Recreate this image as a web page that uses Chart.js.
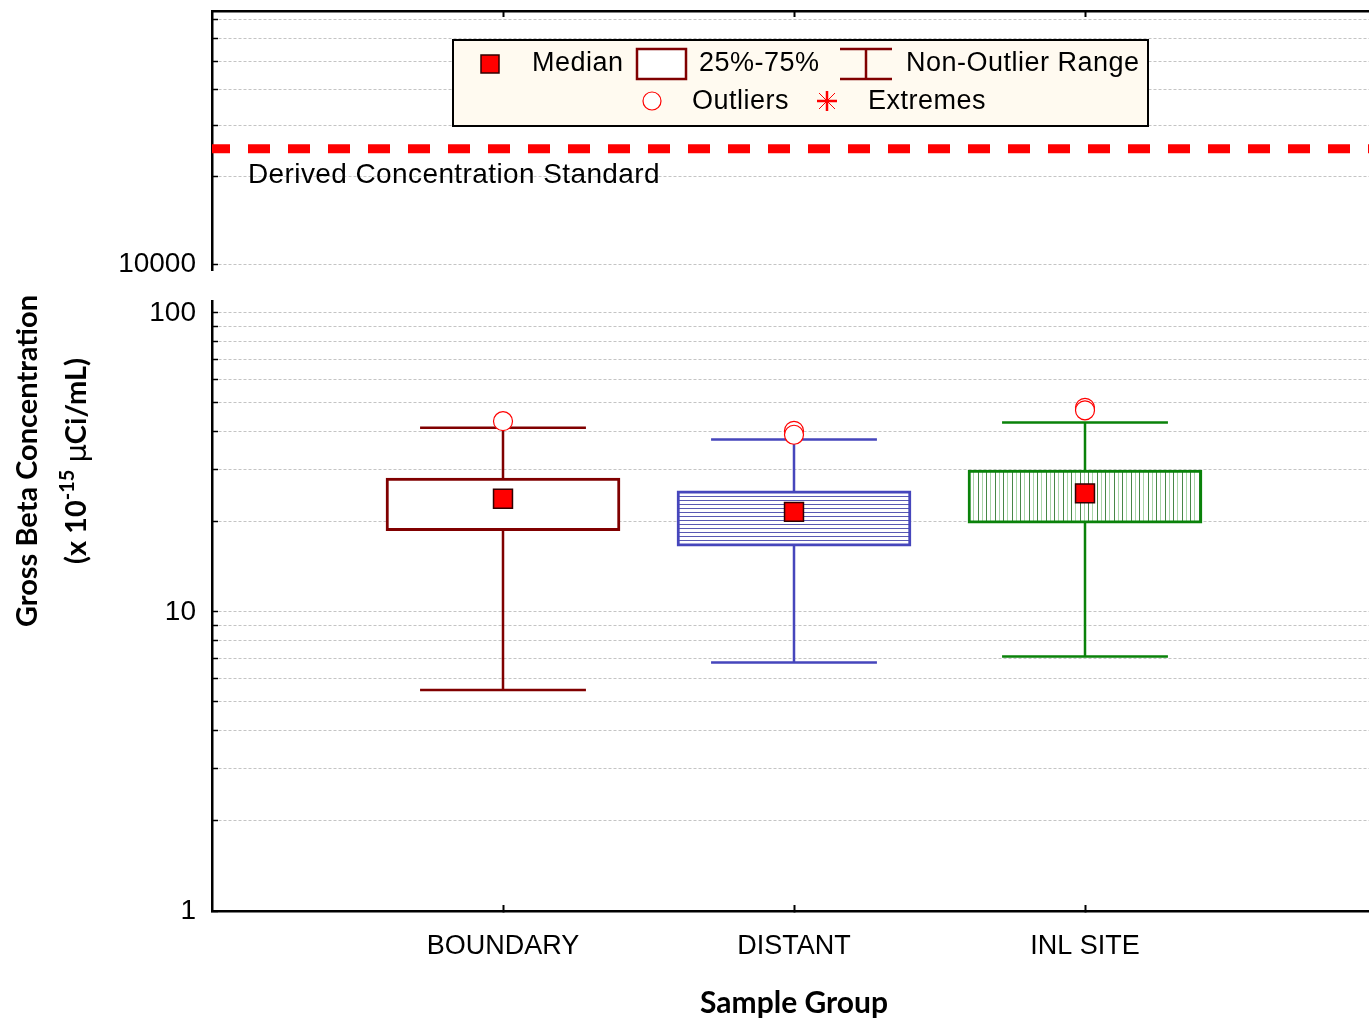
<!DOCTYPE html>
<html>
<head>
<meta charset="utf-8">
<title>Gross Beta Concentration by Sample Group</title>
<script src="https://cdn.jsdelivr.net/npm/chart.js@4.4.1/dist/chart.umd.min.js"></script>
<style>
  html, body { margin: 0; padding: 0; background: #fff; overflow: hidden; }
  canvas { display: block; }
</style>
</head>
<body>
<canvas id="boxChart" width="1376" height="1021"></canvas>
<script>
// values (x 10^-15 uCi/mL)
const groups = ['BOUNDARY', 'DISTANT', 'INL SITE'];
const whiskerLow = [5.48, 6.77, 7.10];
const quartile1 = [18.7, 16.6, 19.8];
const medians = [23.9, 21.6, 24.9];
const quartile3 = [28.0, 25.4, 29.8];
const whiskerHigh = [41.3, 37.7, 43.0];
const outliers = [[43.4], [40.3, 39.1], [48.1, 47.2]];
const derivedStandard = 25000;

const lowTicks = [1, 2, 3, 4, 5, 6, 7, 8, 9, 10, 20, 30, 40, 50, 60, 70, 80, 90, 100];
const lowLabels = [1, 10, 100];
const highTicks = [10000, 20000, 30000, 40000, 50000, 60000, 70000];
const highLabels = [10000];

const groupColors = ['#800000', '#4646bc', '#0a820a'];
const tickFont = '"Liberation Sans", Arial, sans-serif';
const titleFont = 'Lato, "Open Sans", sans-serif';
const capHalf = 0.285; // whisker cap half width, in category units

function hatch(kind) {
    const c = document.createElement('canvas');
    const g = c.getContext('2d');
    if (kind === 'horizontal') {
        c.width = 8; c.height = 4;
        g.fillStyle = '#ffffff'; g.fillRect(0, 0, 8, 4);
        g.fillStyle = 'rgba(60,60,165,0.85)'; g.fillRect(0, 0, 8, 1);
    } else {
        c.width = 17; c.height = 4;
        g.fillStyle = '#ffffff'; g.fillRect(0, 0, 17, 4);
        g.fillStyle = 'rgba(25,105,25,0.8)'; g.fillRect(0, 0, 1, 4); g.fillRect(9, 0, 1, 4);
        g.fillStyle = 'rgba(40,150,40,0.4)'; g.fillRect(4, 0, 1, 4); g.fillRect(13, 0, 1, 4);
    }
    return g.createPattern(c, 'repeat');
}
const boxFills = ['#ffffff', hatch('horizontal'), hatch('vertical')];

function whiskerPoints(i) {
    const x = i + 1;
    return [
        {x: x - capHalf, y: whiskerLow[i]}, {x: x + capHalf, y: whiskerLow[i]}, {x: x, y: null},
        {x: x, y: whiskerLow[i]}, {x: x, y: whiskerHigh[i]}, {x: x, y: null},
        {x: x - capHalf, y: whiskerHigh[i]}, {x: x + capHalf, y: whiskerHigh[i]}
    ];
}

const whiskerSets = groups.map((g, i) => ({
    type: 'line',
    label: g + ' whiskers',
    data: whiskerPoints(i),
    yAxisID: 'yLow',
    borderColor: groupColors[i],
    borderWidth: 2.5,
    pointRadius: 0,
    spanGaps: false,
    fill: false,
    order: 3
}));

function drawLegend(ctx) {
    const dark = groupColors[0];
    ctx.save();
    ctx.fillStyle = '#fffaf0';
    ctx.fillRect(453, 40, 695, 86);
    ctx.lineWidth = 2;
    ctx.strokeStyle = '#000';
    ctx.strokeRect(453, 40, 695, 86);

    ctx.font = '27px ' + tickFont;
    ctx.letterSpacing = '0.5px';
    ctx.fillStyle = '#000';
    ctx.textAlign = 'left';
    ctx.textBaseline = 'middle';
    const row1 = 64, row2 = 102;

    // median
    ctx.fillStyle = '#ff0000';
    ctx.fillRect(481, 55, 18, 18);
    ctx.lineWidth = 1.5; ctx.strokeStyle = '#300000';
    ctx.strokeRect(481, 55, 18, 18);
    ctx.fillStyle = '#000';
    ctx.fillText('Median', 532, row1);

    // 25%-75%
    ctx.fillStyle = '#fff';
    ctx.fillRect(637, 49, 49, 30);
    ctx.lineWidth = 2.5; ctx.strokeStyle = dark;
    ctx.strokeRect(637, 49, 49, 30);
    ctx.fillStyle = '#000';
    ctx.fillText('25%-75%', 699, row1);

    // non-outlier range
    ctx.beginPath();
    ctx.moveTo(840, 49); ctx.lineTo(892, 49);
    ctx.moveTo(840, 79); ctx.lineTo(892, 79);
    ctx.moveTo(866, 49); ctx.lineTo(866, 79);
    ctx.stroke();
    ctx.fillText('Non-Outlier Range', 906, row1);

    // outliers
    ctx.beginPath();
    ctx.arc(652, row2 - 1, 9, 0, Math.PI * 2);
    ctx.fillStyle = '#fff'; ctx.fill();
    ctx.lineWidth = 1.2; ctx.strokeStyle = '#ff0000'; ctx.stroke();
    ctx.fillStyle = '#000';
    ctx.fillText('Outliers', 692, row2);

    // extremes
    ctx.strokeStyle = '#ff0000';
    ctx.lineWidth = 2.5;
    ctx.beginPath();
    ctx.moveTo(827, row2 - 11); ctx.lineTo(827, row2 + 9);
    ctx.moveTo(817, row2 - 1); ctx.lineTo(837, row2 - 1);
    ctx.stroke();
    ctx.lineWidth = 1;
    ctx.beginPath();
    ctx.moveTo(819, row2 - 9); ctx.lineTo(835, row2 + 7);
    ctx.moveTo(835, row2 - 9); ctx.lineTo(819, row2 + 7);
    ctx.stroke();
    ctx.fillStyle = '#000';
    ctx.fillText('Extremes', 868, row2);
    ctx.restore();
}

function drawYTitle(ctx, area) {
    const cy = (area.top + area.bottom) / 2;
    ctx.save();
    ctx.fillStyle = '#000';
    ctx.translate(37, cy);
    ctx.rotate(-Math.PI / 2);
    ctx.font = 'bold 29px ' + titleFont;
    ctx.textAlign = 'center';
    ctx.textBaseline = 'alphabetic';
    ctx.fillText('Gross Beta Concentration', 0, 0);
    ctx.restore();

    const parts = [
        {text: '(x 10', font: 'bold 29px ' + titleFont, dy: 0},
        {text: '-15', font: 'bold 20px ' + titleFont, dy: -12},
        {text: ' ', font: 'bold 29px ' + titleFont, dy: 0},
        {text: 'μ', font: '29px "DejaVu Sans", sans-serif', dy: 0},
        {text: 'Ci/mL)', font: 'bold 29px ' + titleFont, dy: 0}
    ];
    ctx.save();
    ctx.fillStyle = '#000';
    ctx.translate(86, cy);
    ctx.rotate(-Math.PI / 2);
    ctx.textAlign = 'left';
    ctx.textBaseline = 'alphabetic';
    let total = 0;
    parts.forEach(p => { ctx.font = p.font; p.w = ctx.measureText(p.text).width; total += p.w; });
    let x = -total / 2;
    parts.forEach(p => { ctx.font = p.font; ctx.fillText(p.text, x, p.dy); x += p.w; });
    ctx.restore();
}

const decorations = {
    id: 'decorations',
    afterDraw(chart) {
        const ctx = chart.ctx;
        const area = chart.chartArea;
        const yTop = chart.scales.yTop;
        ctx.save();
        ctx.font = '28px ' + tickFont;
        ctx.letterSpacing = '0.4px';
        ctx.fillStyle = '#000';
        ctx.textAlign = 'left';
        ctx.textBaseline = 'middle';
        ctx.fillText('Derived Concentration Standard', area.left + 36, yTop.getPixelForValue(derivedStandard) + 27);
        ctx.restore();
        drawLegend(ctx);
        drawYTitle(ctx, area);
    }
};

const categoryTicks = scale => { scale.ticks = groups.map((g, i) => ({value: i + 1})); };
const gridDash = [3, 2];

// fixed axis width; drop the label overhang padding so the plot keeps its place
const fitLeft = s => {
    s.width = 212;
    s.paddingTop = 0;
    s.paddingBottom = 0;
};

const yCommon = {
    type: 'logarithmic',
    position: 'left',
    stack: 'left',
    afterFit: fitLeft,
    grid: {
        color: ctx => (ctx.tick && ctx.tick.value === 1 ? 'rgba(0,0,0,0)' : '#c4c4c4'),
        lineWidth: 1,
        drawTicks: true,
        tickLength: -6,
        tickColor: '#000',
        tickWidth: 1.5,
        tickBorderDash: []
    },
    border: { display: true, color: '#000', width: 2.5, dash: gridDash }
};

const xCommon = {
    type: 'linear',
    min: 0,
    max: 4,
    offset: false,
    afterBuildTicks: categoryTicks,
    grid: {
        offset: false,
        drawOnChartArea: false,
        drawTicks: true,
        tickLength: -6,
        tickColor: '#000',
        tickWidth: 2
    },
    border: { display: true, color: '#000', width: 2.5 }
};

new Chart(document.getElementById('boxChart'), {
    type: 'bar',
    data: {
        datasets: [
            {
                type: 'bar',
                label: '25%-75%',
                data: groups.map((g, i) => ({x: i + 1, y: [quartile1[i], quartile3[i]]})),
                yAxisID: 'yLow',
                backgroundColor: boxFills,
                borderColor: groupColors,
                borderWidth: 3,
                borderSkipped: false,
                barThickness: 234,
                order: 2
            },
            ...whiskerSets,
            {
                type: 'scatter',
                label: 'Median',
                data: groups.map((g, i) => ({x: i + 1, y: medians[i]})),
                yAxisID: 'yLow',
                pointStyle: 'rect',
                pointRadius: 13.4,
                backgroundColor: '#ff0000',
                borderColor: '#300000',
                borderWidth: 1.5,
                order: 1
            },
            {
                type: 'scatter',
                label: 'Outliers',
                data: outliers.flatMap((vals, i) => vals.map(v => ({x: i + 1, y: v}))),
                yAxisID: 'yLow',
                pointStyle: 'circle',
                pointRadius: 9.5,
                backgroundColor: '#ffffff',
                borderColor: '#ff0000',
                borderWidth: 1.2,
                order: 0
            },
            {
                type: 'line',
                label: 'Derived Concentration Standard',
                data: [{x: 0, y: derivedStandard}, {x: 4, y: derivedStandard}],
                yAxisID: 'yTop',
                borderColor: '#ff0000',
                borderWidth: 9,
                borderDash: [22, 18],
                borderDashOffset: 4,
                borderCapStyle: 'butt',
                pointRadius: 0,
                fill: false,
                order: 4
            }
        ]
    },
    options: {
        responsive: false,
        animation: false,
        events: [],
        devicePixelRatio: 1,
        layout: { autoPadding: false, padding: { top: 11, left: 0, right: 0, bottom: 0 } },
        plugins: {
            legend: { display: false },
            tooltip: { enabled: false }
        },
        scales: {
            x: {
                ...xCommon,
                position: 'bottom',
                afterFit: s => { s.height = 110; s.paddingLeft = 0; s.paddingRight = 0; },
                ticks: {
                    autoSkip: false,
                    maxRotation: 0,
                    padding: 25,
                    color: '#000',
                    font: { family: tickFont, size: 27 },
                    callback: (v, i) => groups[i]
                },
                title: {
                    display: true,
                    text: 'Sample Group',
                    color: '#000',
                    font: { family: titleFont, size: 30, weight: 'bold' },
                    padding: { top: 0, bottom: 0 }
                }
            },
            x2: {
                ...xCommon,
                position: 'top',
                afterFit: s => { s.height = 0; },
                ticks: { display: false }
            },
            // stacked left axes are placed bottom-up in this order
            yLow: {
                ...yCommon,
                stackWeight: 610,
                min: 1,
                max: 109.5,
                afterBuildTicks: s => { s.ticks = lowTicks.map(v => ({value: v})); },
                ticks: {
                    autoSkip: false,
                    padding: 22,
                    color: '#000',
                    font: { family: tickFont, size: 28 },
                    callback: v => (lowLabels.includes(v) ? String(v) : '')
                }
            },
            yGap: {
                type: 'linear',
                position: 'left',
                stack: 'left',
                stackWeight: 31,
                afterFit: fitLeft,
                ticks: { display: false },
                grid: { display: false },
                border: { display: false }
            },
            yTop: {
                ...yCommon,
                stackWeight: 259,
                min: 9540,
                max: 74600,
                afterBuildTicks: s => { s.ticks = highTicks.map(v => ({value: v})); },
                ticks: {
                    autoSkip: false,
                    padding: 22,
                    color: '#000',
                    font: { family: tickFont, size: 28 },
                    callback: v => (highLabels.includes(v) ? String(v) : '')
                }
            }
        }
    },
    plugins: [decorations]
});
</script>
</body>
</html>
